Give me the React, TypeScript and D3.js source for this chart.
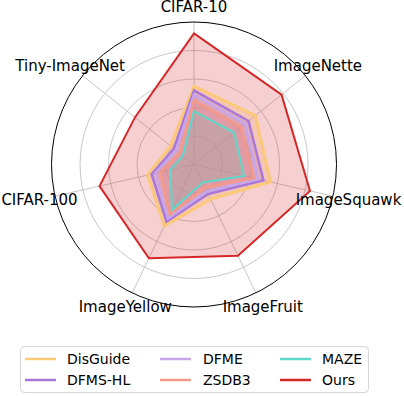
import React from 'react';
import * as d3 from 'd3';

const categories = ['CIFAR-10', 'ImageNette', 'ImageSquawk', 'ImageFruit', 'ImageYellow', 'CIFAR-100', 'Tiny-ImageNet'];
const seriesNames = ['DisGuide', 'DFMS-HL', 'DFME', 'ZSDB3', 'MAZE', 'Ours'];
const disGuide = [0.55, 0.55, 0.55, 0.27, 0.48, 0.335, 0.21];
const dfmsHl = [0.52, 0.49, 0.5, 0.23, 0.445, 0.305, 0.18];
const dfme = [0.49, 0.46, 0.46, 0.21, 0.42, 0.28, 0.16];
const zsdb3 = [0.45, 0.42, 0.43, 0.18, 0.39, 0.245, 0.13];
const maze = [0.375, 0.36, 0.36, 0.14, 0.355, 0.17, 0.1];
const ours = [0.92, 0.786, 0.835, 0.71, 0.73, 0.68, 0.53];
const gridTicks = [0.2, 0.4, 0.6, 0.8];

const seriesValues = [disGuide, dfmsHl, dfme, zsdb3, maze, ours];
const colors = ['#fcc87a', '#a877d8', '#c7a7ec', '#f39a88', '#5ed8cb', '#d62728'];
const widths = [3, 2.5, 2.5, 2.5, 2, 2];
const fillAlpha = [0.25, 0.25, 0.25, 0.25, 0.25, 0.22];

const W = 404;
const H = 396;
const cx = 194;
const cy = 164.5;
const R = 142.5;

export default function App() {
  const r = d3.scaleLinear().domain([0, 1]).range([0, R]);
  const angle = d3
    .scalePoint<string>()
    .domain(categories)
    .range([0, 2 * Math.PI * (1 - 1 / categories.length)]);

  const radar = d3
    .lineRadial<number>()
    .angle((_, i) => angle(categories[i]) as number)
    .radius((v) => r(v))
    .curve(d3.curveLinearClosed);

  const pt = (a: number, rad: number) => [rad * Math.sin(a), -rad * Math.cos(a)];

  const font = 'DejaVu Sans, sans-serif';

  return (
    <svg width={W} height={H} style={{ position: 'absolute', left: 0, top: 0 }}>
      <rect width={W} height={H} fill="#fff" />
      <g transform={`translate(${cx},${cy})`}>
        {gridTicks.map((t) => (
          <circle key={t} r={r(t)} fill="none" stroke="#c8c8c8" strokeWidth={1} />
        ))}
        {categories.map((c) => {
          const [x, y] = pt(angle(c) as number, R);
          return <line key={c} x1={0} y1={0} x2={x} y2={y} stroke="#c8c8c8" strokeWidth={1} />;
        })}
        {seriesValues.map((vals, i) => (
          <path key={'f' + i} d={radar(vals) || ''} fill={colors[i]} fillOpacity={fillAlpha[i]} stroke="none" />
        ))}
        {seriesValues.map((vals, i) => (
          <path
            key={'l' + i}
            d={radar(vals) || ''}
            fill="none"
            stroke={colors[i]}
            strokeWidth={widths[i]}
            strokeLinejoin="miter"
          />
        ))}
        <circle r={R} fill="none" stroke="#000" strokeWidth={1} />
        {categories.map((c) => {
          const [x, y] = pt(angle(c) as number, R * 1.112);
          return (
            <text
              key={c}
              x={x}
              y={y + (y < -150 ? 1 : 0)}
              textAnchor="middle"
              dominantBaseline="central"
              fontFamily={font}
              fontSize={15}
              fill="#000"
            >
              {c}
            </text>
          );
        })}
      </g>
      <g>
        <rect x={20.5} y={346.5} width={348} height={46} rx={4} fill="#fff" fillOpacity={0.8} stroke="#d6d6d6" />
        {seriesNames.map((name, i) => {
          const col = Math.floor(i / 2);
          const row = i % 2;
          const lx = [25, 160, 280][col];
          const tx = [67, 203, 322][col];
          const y = [359, 380][row];
          return (
            <g key={name}>
              <line x1={lx} x2={lx + 31} y1={y} y2={y} stroke={colors[i]} strokeWidth={2.5} />
              <text x={tx} y={y} dominantBaseline="central" fontFamily={font} fontSize={14} fill="#000">
                {name}
              </text>
            </g>
          );
        })}
      </g>
    </svg>
  );
}
